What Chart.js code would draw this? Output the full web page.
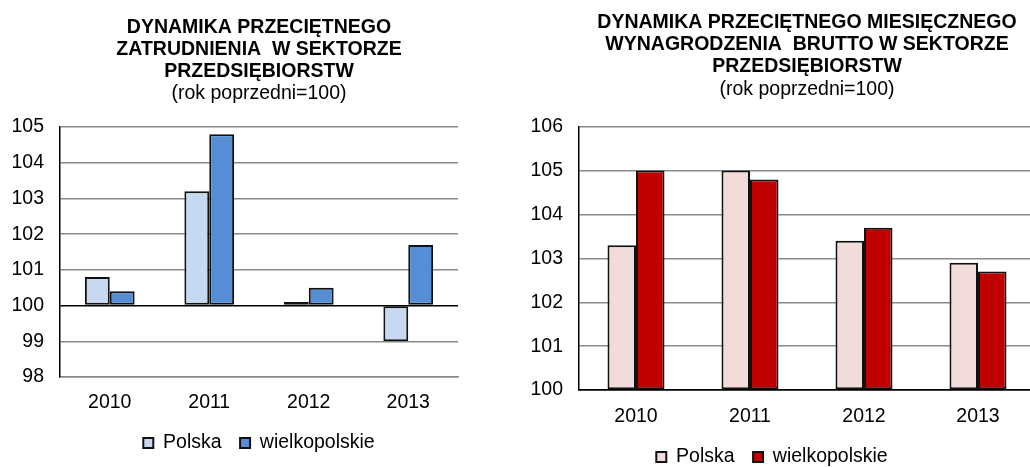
<!DOCTYPE html>
<html>
<head>
<meta charset="utf-8">
<script src="https://cdn.jsdelivr.net/npm/chart.js@4/dist/chart.umd.min.js"></script>
<style>
  html, body { margin: 0; padding: 0; background: #fff; overflow: hidden; width: 1030px; height: 467px; }
  canvas { position: absolute; top: 0; }
  #zatrudnienie { left: 0; }
  #wynagrodzenie { left: 509px; }
</style>
</head>
<body>
<canvas id="zatrudnienie" width="480" height="467"></canvas>
<canvas id="wynagrodzenie" width="546" height="480"></canvas>
<script>
// Lata
const years = ['2010', '2011', '2012', '2013'];

// Dynamika przeciętnego zatrudnienia (rok poprzedni = 100)
const zatrPolska = [100.8, 103.2, 100.1, 99.0];
const zatrWielkopolskie = [100.4, 104.8, 100.5, 101.7];

// Dynamika przeciętnego miesięcznego wynagrodzenia brutto (rok poprzedni = 100)
const wynPolska = [103.3, 105.0, 103.4, 102.9];
const wynWielkopolskie = [105.0, 104.8, 103.7, 102.7];

// Osie wartości
const zatrTicks = [98, 99, 100, 101, 102, 103, 104, 105];
const wynTicks = [100, 101, 102, 103, 104, 105, 106];

const zatrTitle = ['DYNAMIKA PRZECIĘTNEGO', 'ZATRUDNIENIA  W SEKTORZE', 'PRZEDSIĘBIORSTW'];
const wynTitle = ['DYNAMIKA PRZECIĘTNEGO MIESIĘCZNEGO', 'WYNAGRODZENIA  BRUTTO W SEKTORZE', 'PRZEDSIĘBIORSTW'];
const subtitleText = '(rok poprzedni=100)';
const seriesNames = ['Polska', 'wielkopolskie'];

Chart.defaults.font.family = "'Liberation Sans', Arial, Helvetica, sans-serif";
Chart.defaults.color = '#000';
Chart.defaults.animation = false;

const FONT = 19.5;
const GRID = '#8a8a8a';

function buildChart(canvasId, o) {
  const base = o.base;
  const barStyle = {
    base: base, borderColor: '#111', borderWidth: 2, borderSkipped: false,
    barPercentage: 1, categoryPercentage: 0.5
  };
  return new Chart(document.getElementById(canvasId), {
    type: 'bar',
    data: {
      labels: years,
      datasets: [
        Object.assign({ label: seriesNames[0], data: o.a, backgroundColor: o.colors[0] }, barStyle),
        Object.assign({ label: seriesNames[1], data: o.b, backgroundColor: o.colors[1] }, barStyle)
      ]
    },
    options: {
      responsive: false,
      maintainAspectRatio: false,
      layout: { padding: o.padding },
      plugins: {
        tooltip: { enabled: false },
        title: {
          display: true, text: o.title, fullSize: false,
          font: { size: FONT, weight: 'bold', lineHeight: 1.113 },
          padding: o.titlePad, color: '#000'
        },
        subtitle: {
          display: true, text: subtitleText, fullSize: false,
          font: { size: FONT, weight: 'normal', lineHeight: 1.113 },
          padding: o.subPad, color: '#000'
        },
        legend: {
          position: 'bottom', fullSize: o.legendFull,
          labels: {
            boxWidth: 10, boxHeight: 10, padding: 18.5,
            font: { size: FONT }, color: '#000'
          }
        }
      },
      scales: {
        x: {
          grid: { display: false, drawTicks: true, tickLength: o.xTick },
          border: { display: true, color: o.xBorder, width: 1.5 },
          ticks: { font: { size: FONT }, padding: 0, color: '#000' }
        },
        y: {
          min: o.ticks[0], max: o.ticks[o.ticks.length - 1],
          afterBuildTicks: (s) => { s.ticks = o.ticks.map(v => ({ value: v })); },
          afterFit: (s) => { s.width = o.yWidth; },
          grid: {
            drawTicks: false, lineWidth: 1.5,
            color: (c) => (c.tick && c.tick.value === base ? '#000' : GRID)
          },
          border: { display: true, color: '#000', width: 1.5 },
          ticks: { font: { size: FONT }, padding: 16, color: '#000' }
        }
      }
    }
  });
}

buildChart('zatrudnienie', {
  a: zatrPolska, b: zatrWielkopolskie, base: 100,
  colors: ['#c6d9f1', '#558ed5'],
  ticks: zatrTicks,
  title: zatrTitle,
  padding: { left: 0, right: 22, top: 0, bottom: 4.25 },
  titlePad: { top: 17, bottom: 0 },
  subPad: { top: 1, bottom: 22.2 },
  legendFull: false,
  xBorder: GRID, xTick: 14.3, yWidth: 60
});

buildChart('wynagrodzenie', {
  a: wynPolska, b: wynWielkopolskie, base: 100,
  colors: ['#f2dcdb', '#c00000'],
  ticks: wynTicks,
  title: wynTitle,
  padding: { left: 0, right: 20, top: 0, bottom: 3.25 },
  titlePad: { top: 12, bottom: 0 },
  subPad: { top: 2, bottom: 25.9 },
  legendFull: true,
  xBorder: '#000', xTick: 15.3, yWidth: 70
});
</script>
</body>
</html>
